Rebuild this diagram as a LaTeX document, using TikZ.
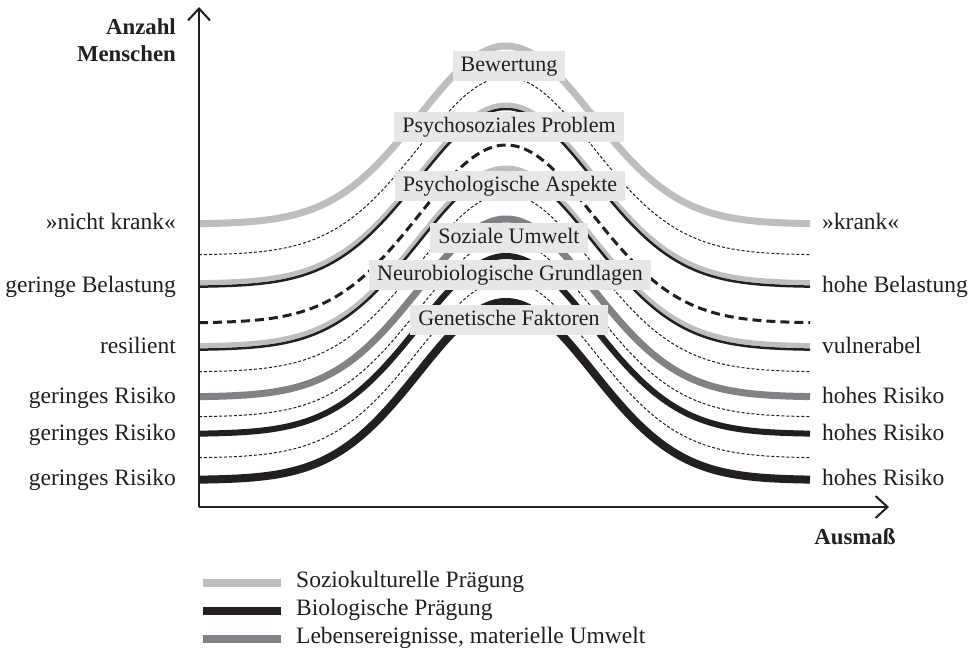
\documentclass[tikz,border=0pt]{standalone}
\usepackage{fontspec}
\setmainfont{Liberation Serif}
\usetikzlibrary{arrows.meta}
\definecolor{lgray}{HTML}{BCBEC0}
\definecolor{mgray}{HTML}{808285}
\definecolor{ink}{HTML}{231F20}
\definecolor{boxgray}{HTML}{E6E7E8}
\tikzset{
  bell/.style={insert path={plot[domain=199:810,samples=170,smooth] (\x,{#1-178*exp(-0.5*((\x-506)/87)^2)})}},
  socio/.style={draw=lgray,line width=7pt},
  bio/.style={draw=ink,line width=6pt},
  biothick/.style={draw=ink,line width=8pt},
  life/.style={draw=mgray,line width=7pt},
  thindash/.style={draw=ink,line width=1pt,dash pattern=on 3pt off 2pt},
  thickdash/.style={draw=ink,line width=3pt,dash pattern=on 9pt off 5pt},
  dblgray/.style={draw=lgray,line width=5pt},
  dblblack/.style={draw=ink,line width=2.5pt},
  axis/.style={draw=ink,line width=2pt,-{Straight Barb[length=12pt,width=22pt,line width=2pt]}},
  lbox/.style={fill=boxgray,inner xsep=8pt,inner ysep=4.5pt,text height=16pt,text depth=5pt,text=ink,font=\fontsize{22}{26}\selectfont},
  side/.style={text=ink,inner sep=0pt,font=\fontsize{23.5}{28}\selectfont},
  axlab/.style={text=ink,inner sep=0pt,font=\bfseries\fontsize{22.8}{27.5}\selectfont},
}
\begin{document}
\begin{tikzpicture}[x=1pt,y=-1pt]
\useasboundingbox[fill=white] (0,0) rectangle (976,656);
% curves
\path[thindash,bell=255];
\path[thindash,bell=372];
\path[thindash,bell=417];
\path[thindash,bell=458];
\path[socio,bell=224];
\path[dblgray,bell=283];
\path[dblblack,bell=287];
\path[thickdash,bell=323];
\path[dblgray,bell=346];
\path[dblblack,bell=350];
\path[life,bell=397];
\path[bio,bell=434];
\path[biothick,bell=480];
% axes
\coordinate (O) at (199,507);
\coordinate (ytop) at (199,7);
\coordinate (xend) at (889,507);
\draw[axis] (O) -- (ytop);
\draw[axis] (O) -- (xend);
\node[axlab,align=right,anchor=north east] (ylab) at (176,18) {Anzahl\\Menschen};
\node[axlab,anchor=base] (xlab) at (855,544) {Ausmaß};
% boxes
\node[lbox] (b1) at (509,66) {Bewertung};
\node[lbox] (b2) at (509,127) {Psychosoziales Problem};
\node[lbox] (b3) at (510,186) {Psychologische Aspekte};
\node[lbox] (b4) at (509,238) {Soziale Umwelt};
\node[lbox] (b5) at (510,275) {Neurobiologische Grundlagen};
\node[lbox] (b6) at (509,320) {Genetische Faktoren};
% left labels
\node[side,anchor=mid east] (l1) at (176,227) {»nicht krank«};
\node[side,anchor=mid east] (l2) at (176,290) {geringe Belastung};
\node[side,anchor=mid east] (l3) at (176,351) {resilient};
\node[side,anchor=mid east] (l4) at (176,401) {geringes Risiko};
\node[side,anchor=mid east] (l5) at (176,438) {geringes Risiko};
\node[side,anchor=mid east] (l6) at (176,483) {geringes Risiko};
% right labels
\node[side,anchor=mid west] (r1) at (822,227) {»krank«};
\node[side,anchor=mid west] (r2) at (822,290) {hohe Belastung};
\node[side,anchor=mid west] (r3) at (822,351) {vulnerabel};
\node[side,anchor=mid west] (r4) at (822,401) {hohes Risiko};
\node[side,anchor=mid west] (r5) at (822,438) {hohes Risiko};
\node[side,anchor=mid west] (r6) at (822,483) {hohes Risiko};
% legend
\coordinate (s1a) at (203,583); \coordinate (s1b) at (281,583);
\coordinate (s2a) at (203,611); \coordinate (s2b) at (281,611);
\coordinate (s3a) at (203,639); \coordinate (s3b) at (281,639);
\draw[draw=lgray,line width=8pt] (s1a) -- (s1b);
\draw[draw=ink,line width=8pt] (s2a) -- (s2b);
\draw[draw=mgray,line width=8pt] (s3a) -- (s3b);
\node[side,anchor=mid west] (t1) at (296,585) {Soziokulturelle Prägung};
\node[side,anchor=mid west] (t2) at (296,613) {Biologische Prägung};
\node[side,anchor=mid west] (t3) at (296,641) {Lebensereignisse, materielle Umwelt};
\end{tikzpicture}
\end{document}
